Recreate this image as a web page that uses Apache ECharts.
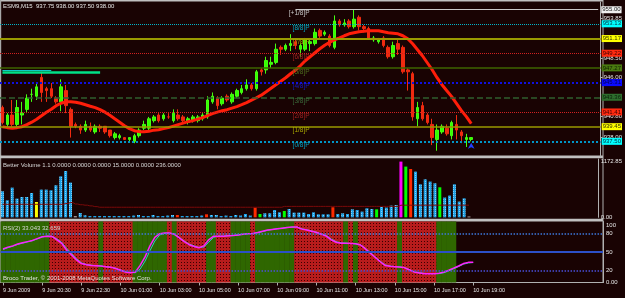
<!DOCTYPE html>
<html>
<head>
<meta charset="utf-8">
<title>ESM9,M15</title>
<script src="https://cdn.jsdelivr.net/npm/echarts@6.0.0/dist/echarts.min.js"></script>
<style>
html,body{margin:0;padding:0;background:#190303;overflow:hidden;}
#chart{width:625px;height:298px;}
</style>
</head>
<body>
<div id="chart"></div>
<script>
// ---------------- data ----------------
const timeTicks = ['9 Jun 2009','9 Jun 20:30','9 Jun 22:30','10 Jun 01:00','10 Jun 03:00','10 Jun 05:00','10 Jun 07:00','10 Jun 09:00','10 Jun 11:00','10 Jun 13:00','10 Jun 15:00','10 Jun 17:00','10 Jun 19:00'];
const barsPerTick = 8;
const slotCount = 123; // bars plus empty chart-shift space on the right

const opens = [942.0,939.75,941.0,939.75,941.0,941.75,943.75,943.5,946.0,944.5,
944.5,943.25,942.75,944.25,941.75,939.75,939.5,939.0,939.5,938.75,
939.5,939.5,939.0,938.0,938.0,938.0,937.75,937.5,938.25,939.25,
939.25,940.25,941.0,940.5,940.75,940.25,941.0,940.75,940.0,940.25,
940.25,940.5,940.75,942.75,943.25,942.5,943.5,942.75,943.5,944.0,
944.5,945.0,944.5,947.0,947.0,947.75,948.0,950.0,949.75,950.25,
950.75,949.75,949.75,950.5,950.5,952.25,951.75,951.5,950.0,953.5,
953.0,953.5,952.75,954.0,952.75,952.5,951.0,950.75,951.25,950.0,
948.75,950.5,950.0,947.0,946.5,940.5,942.25,941.0,939.75,937.75,
938.75,939.25,938.25,939.75,938.75,937.75,937.75];
const highs = [942.25,941.25,943.0,943.0,942.75,943.75,944.5,945.25,946.75,944.75,
945.25,943.5,945.75,945.0,942.0,940.0,939.75,940.25,940.0,939.75,
939.75,939.5,939.0,938.75,938.5,938.0,938.0,938.5,939.25,940.25,
940.75,941.0,941.25,941.25,941.25,941.75,941.75,941.0,940.75,941.0,
941.0,941.25,943.5,944.0,943.5,943.5,943.75,944.0,944.5,945.0,
945.75,945.25,947.0,947.25,948.75,948.75,950.5,950.25,950.5,951.75,
951.0,950.5,951.25,951.0,952.5,952.5,952.25,951.75,954.25,953.75,
953.75,953.75,955.0,954.25,953.0,952.75,951.5,951.25,951.5,950.25,
950.75,951.0,950.25,947.25,946.75,942.75,942.75,941.25,940.5,939.75,
939.75,939.75,940.25,941.0,939.0,938.5,938.0];
const lows = [939.75,939.25,939.25,939.5,939.75,941.25,942.75,943.0,942.75,942.75,
943.25,942.5,941.5,941.25,938.0,939.25,938.5,938.75,938.75,938.5,
938.75,938.5,938.0,937.75,937.75,937.75,937.5,937.25,938.0,939.0,
939.0,940.0,940.0,940.25,940.5,940.0,940.25,940.0,939.75,940.0,
940.0,940.25,940.5,942.5,941.75,942.25,942.75,942.5,943.25,943.75,
944.25,944.25,944.25,946.25,946.5,947.25,947.75,949.0,949.5,949.5,
949.75,948.75,949.5,949.5,950.25,951.25,951.5,950.0,949.75,952.75,
952.75,952.5,952.5,952.25,952.0,951.0,950.75,950.5,950.0,948.5,
948.5,949.0,946.5,944.25,940.25,939.5,940.25,939.75,937.0,936.25,
938.5,938.25,937.75,937.75,937.25,936.75,937.5];
const closes = [940.0,941.0,939.75,942.0,941.25,943.25,943.75,944.75,944.0,944.25,
943.5,942.75,944.75,942.25,939.5,939.5,939.0,939.75,939.0,939.5,
939.25,938.75,938.25,938.5,938.25,937.75,938.0,938.25,939.0,939.75,
940.5,940.75,940.25,941.0,940.75,941.25,940.5,940.25,940.5,940.75,
940.75,941.0,943.0,943.5,942.25,943.25,943.0,943.75,944.25,944.5,
945.0,944.5,946.75,946.75,948.25,948.0,949.75,949.75,950.25,950.5,
950.25,950.25,951.0,950.75,952.0,951.5,952.0,950.25,953.5,953.0,
953.25,952.75,953.75,952.75,952.5,951.25,951.25,951.0,950.25,948.75,
950.25,949.75,946.75,946.75,940.75,942.0,940.5,940.0,938.0,939.0,
939.5,938.5,940.0,939.0,938.25,938.0,938.0];
const maValues = [939.45,939.32,939.25,939.32,939.45,939.72,940.05,940.45,940.91,941.38,
941.78,942.24,942.57,942.77,942.77,942.71,942.57,942.37,942.17,941.98,
941.71,941.38,940.98,940.51,940.05,939.58,939.19,938.92,938.79,938.79,
938.85,938.99,939.05,939.19,939.32,939.52,939.72,939.92,940.12,940.25,
940.45,940.65,940.91,941.18,941.38,941.58,941.71,941.91,942.11,942.37,
942.64,942.97,943.30,943.64,944.10,944.57,945.03,945.50,945.96,946.49,
946.96,947.55,948.22,948.75,949.28,949.81,950.28,950.67,951.01,951.27,
951.54,951.80,951.94,952.07,952.13,952.20,952.20,952.20,952.07,951.94,
951.87,951.80,951.54,951.14,950.47,949.68,948.88,947.95,947.02,945.96,
945.03,944.23,943.44,942.51,941.58,940.78,939.85];

const mmLevels = [955.08,953.13,951.17,949.22,947.27,945.31,943.36,941.41,939.45,937.50];
const mmNames  = ['[+1/8]P','[8/8]P','[7/8]P','[6/8]P','[5/8]P','[4/8]P','[3/8]P','[2/8]P','[1/8]P','[0/8]P'];
const priceTickValues = [953.85,948.50,946.00,940.80,938.00];
const hLinePrice = 955.00;
const bottomPrice = 935.55;
const greenSegPrice = 946.75;
const cyanSegPrice = 946.92;
const arrowPrice = 937.3;

const volumes = [548,358,625,394,428,428,512,322,583,583,
569,674,863,975,731,21,91,42,27,27,
27,27,27,27,27,27,27,36,48,27,
27,48,27,27,36,48,48,27,27,27,
27,36,63,48,48,27,36,27,48,36,
70,36,204,70,84,84,154,105,133,175,
99,99,99,70,105,63,63,63,211,70,
84,70,168,154,120,190,175,168,217,204,
246,259,1173,1068,1017,962,695,800,752,716,
632,415,457,695,331,400,15];
const volKinds = ('bbbbbbb'+'y'+'bbbbbbb'+'w'+'bbbbbbbbbbbbbbbbbbbb'+'r'+'bbbbb'+'r'+'bbbbbbbbb'+'r'+'g'+'bbbb'+'g'+'bbbbbbbbb'+'r'+'bbbbbbbb'+'g'+'bbbb'+'m'+'g'+'r'+'bbbbb'+'g'+'bbbbb'+'w').split('');
const volAvg = [274,274,274,274,274,274,274,274,274,274,
274,274,274,290,310,280,265,255,240,225,
212,212,212,212,212,212,212,212,212,212,
212,212,212,212,212,212,212,212,212,212,
212,212,212,212,212,212,212,212,212,212,
212,212,212,212,212,212,212,212,230,230,
230,230,230,230,230,230,230,230,230,230,
230,230,230,230,230,230,230,230,230,230,
230,230,255,255,255,255,255,255,255,255,
255,255,255,255,255,255,255];
const volTop = 1172.85;

const rsiValues = [55,58,60,63,65,67,69,72,75,76,
75.5,70,64,53,45,37,31,29,28,27.5,
27,26,25,23,20,17,16,17,28,42,
60,74,80,81,81,79,73,67,62,59,
57,60,70,76,76,76,76.5,77,78,79,
80,80.5,82,84,86,87,88,89,90,91,
91,87.5,86,84,82,79,76,70,66,64.5,
64.5,64,63.5,61.5,55,48,41,34,28,26.5,
26,25.5,24,20.5,17,15.5,14.5,14.5,14.5,15,
17,20,23.5,27,31,33,33];
const rsiSignal = [54,57,59.5,62.5,64.5,66.5,68.5,71.5,74.5,76,
76,71.5,66,56,47.5,39,32.5,29.5,28.5,27.5,
27,26,25,23.5,20.5,17.5,16.5,16,22,35,
52,68,78,80.5,81,79.5,74,68,63,60,
57.5,58,66,74,76,76,76.5,77,78,79,
80,80.5,81.5,83.5,85.5,87,88,89,90,90.5,
91,88,86.5,84.5,82.5,79.5,77,71.5,67,65,
64.5,64,63.5,62,56,49,42,35,29,27,
26,25.5,24.5,21,17.5,16,15,14.5,14.5,14.5,
16,19,22.5,26,30,32,32.7];
const rsiZones = ('gggggggggg'+'rrrrrrrrrr'+'g'+'rrrrrr'+'ggggggg'+'r'+'g'+'rrrrrr'+'gg'+'rrr'+'gggg'+'r'+'gggggggg'+'rrrrrrrrrr'+'g'+'r'+'g'+'rrrrrrrr'+'g'+'rrrrrrr'+'gggg'+'----').split('');
const rsiLevels = [80,50,20];
const rsiTickValues = [100,80,50,20,0];

// ---------------- helpers ----------------
const FONT = "'Liberation Sans', Arial, sans-serif";
function pattern(base, dot, size, dots) {
  const c = document.createElement('canvas');
  c.width = size; c.height = size;
  const g = c.getContext('2d');
  g.fillStyle = base; g.fillRect(0, 0, size, size);
  g.fillStyle = dot;
  dots.forEach(([x, y]) => g.fillRect(x, y, 1, 1));
  return { image: c, repeat: 'repeat' };
}
const redDots = pattern('#b81c1c', '#3a0000', 3, [[1, 1]]);
const blueDots = pattern('#1ea2e6', '#7fd4ff', 2, [[1, 1]]);
const zoneGreen = '#2f6700';
const volColorMap = { b: blueDots, y: '#ffff00', w: '#d0d0d0', r: '#ff2a00', g: '#00ff00', m: '#ff00ff' };

const categories = Array.from({ length: slotCount }, (_, i) => String(i));
const candleData = opens.map((o, i) => [o, closes[i], lows[i], highs[i]]);

const mmStyles = [
  null,
  { color: '#00b4c8', width: 1, type: 'dotted', box: '#00ffff', text: '#003040', name: '#00a8c0' },
  { color: '#9a9a00', width: 2, type: 'solid', box: '#ffff00', text: '#303000', name: '#a8a800' },
  { color: '#d02020', width: 1, type: 'dotted', box: '#ff2a10', text: '#400000', name: '#a02020' },
  { color: '#3e6400', width: 1.5, type: 'solid', box: '#4a7a10', text: '#102000', name: '#4e6e1e' },
  { color: '#1010e0', width: 2, type: 'dotted', box: '#0a0aff', text: '#000050', name: '#1818c0' },
  { color: '#2f5f2f', width: 1.5, type: 'dashed', box: '#2e6e2e', text: '#0a200a', name: '#3a6a3a' },
  { color: '#d02020', width: 1, type: 'dotted', box: '#ff2a10', text: '#400000', name: '#a02020' },
  { color: '#9a9a00', width: 1.5, type: 'solid', box: '#ffff00', text: '#303000', name: '#a8a800' },
  { color: '#0096c8', width: 2, type: 'dotted', box: '#00ffff', text: '#003040', name: '#00a0c0' }
];

const levelLines = [];
const levelNames = [];
mmLevels.forEach((lv, k) => {
  const st = mmStyles[k];
  if (st) {
    levelLines.push({
      yAxis: lv,
      lineStyle: { color: st.color, width: st.width, type: st.type },
      label: { show: true, position: 'end', distance: 1, formatter: lv.toFixed(2),
        backgroundColor: st.box, color: st.text, fontSize: 6, fontFamily: FONT, padding: [1, 1, 0, 1] }
    });
  }
  levelNames.push({
    coord: ['63', lv], symbol: 'rect', symbolSize: 1, itemStyle: { color: 'rgba(0,0,0,0)' },
    label: { show: true, formatter: mmNames[k], position: [0, 1], align: 'right', verticalAlign: 'top',
      color: st ? st.name : '#c8c8c8', fontSize: 6.5, fontFamily: FONT }
  });
});
// grey horizontal line with white box label
levelLines.push([
  { coord: ['60', hLinePrice], lineStyle: { color: '#c8c8c8', width: 1, type: 'solid' },
    label: { show: true, position: 'end', distance: 3, formatter: hLinePrice.toFixed(2),
      backgroundColor: '#f0f0f0', color: '#202020', fontSize: 6, fontFamily: FONT, padding: [1, 1, 0, 1] } },
  { coord: [String(slotCount - 1), hLinePrice] }
]);
// bottom price box
levelLines.push({ yAxis: bottomPrice, lineStyle: { opacity: 0 },
  label: { show: true, position: 'end', distance: 1, formatter: bottomPrice.toFixed(2),
    backgroundColor: '#f0f0f0', color: '#202020', fontSize: 6, fontFamily: FONT, padding: [1, 1, 0, 1] } });
// green/cyan short segments on the left
levelLines.push([{ coord: ['0', greenSegPrice], lineStyle: { color: '#00e088', width: 2.5, type: 'solid' }, label: { show: false } },
                 { coord: ['20', greenSegPrice] }]);
levelLines.push([{ coord: ['0', cyanSegPrice], lineStyle: { color: '#10c8c8', width: 1, type: 'solid' }, label: { show: false } },
                 { coord: ['10', cyanSegPrice] }]);

levelNames.push({ coord: [String(opens.length - 1), arrowPrice], symbol: 'arrow', symbolSize: [5, 6],
  itemStyle: { color: '#2040ff' }, label: { show: false } });

const rsiZoneData = rsiZones.map(z => z === 'g' ? { value: 100, itemStyle: { color: zoneGreen } }
                                   : z === 'r' ? { value: 100, itemStyle: { color: redDots } } : '-');
const volData = volumes.map((v, i) => ({ value: v, itemStyle: { color: volColorMap[volKinds[i]] } }));

const axisGrey = '#b0b0b0';
const labelColor = '#e6e6e6';

function xAxisFor(idx, showLabels) {
  return {
    type: 'category', gridIndex: idx, data: categories, boundaryGap: true,
    show: showLabels,
    axisLine: { show: showLabels, lineStyle: { color: axisGrey, width: 1 } },
    axisTick: { show: showLabels, alignWithLabel: true, length: 3, lineStyle: { color: axisGrey },
      interval: (i) => i % barsPerTick === 0 && i / barsPerTick < timeTicks.length },
    axisLabel: { show: showLabels, color: labelColor, fontSize: 5.5, fontFamily: FONT, align: 'left', margin: 5,
      interval: (i) => i % barsPerTick === 0 && i / barsPerTick < timeTicks.length,
      formatter: (v, i) => timeTicks[i / barsPerTick] || '' },
    splitLine: { show: false }
  };
}

const option = {
  animation: false,
  backgroundColor: '#190303',
  textStyle: { fontFamily: FONT },
  title: [
    { text: 'ESM9,M15  937.75 938.00 937.50 938.00', left: 3, top: 3, padding: 0,
      textStyle: { color: '#e8e8e8', fontSize: 6, fontWeight: 'normal', fontFamily: FONT } },
    { text: 'Better Volume 1.1 0.0000 0.0000 0.0000 15.0000 0.0000 236.0000', left: 3, top: 162, padding: 0,
      textStyle: { color: '#d8d8d8', fontSize: 6, fontWeight: 'normal', fontFamily: FONT } },
    { text: 'RSI(2) 33.043 32.659', left: 3, top: 225, padding: 0,
      textStyle: { color: '#d8d8d8', fontSize: 6, fontWeight: 'normal', fontFamily: FONT } },
    { text: 'Broco Trader, \u00a9 2001-2008 MetaQuotes Software Corp.', left: 3, top: 275, padding: 0,
      textStyle: { color: '#e0e0e0', fontSize: 6, fontWeight: 'normal', fontFamily: FONT } }
  ],
  graphic: [
    { type: 'rect', shape: { x: 0, y: 0, width: 603, height: 1.5 }, style: { fill: '#c0c0c0' }, silent: true },
    { type: 'rect', shape: { x: 0, y: 0, width: 1.2, height: 283 }, style: { fill: '#a8a8a8' }, silent: true },
    { type: 'rect', shape: { x: 0, y: 155.5, width: 603, height: 2.8 }, style: { fill: '#c0c0c0' }, silent: true },
    { type: 'rect', shape: { x: 0, y: 218.8, width: 603, height: 2.8 }, style: { fill: '#c0c0c0' }, silent: true },
    { type: 'rect', shape: { x: 602.5, y: 0, width: 1, height: 283 }, style: { fill: axisGrey }, silent: true }
  ],
  grid: [
    { left: 0, right: 22, top: 2, height: 154 },
    { left: 0, right: 22, top: 159, height: 58.3 },
    { left: 0, right: 22, top: 221.5, height: 61 }
  ],
  xAxis: [xAxisFor(0, false), xAxisFor(1, false), xAxisFor(2, true)],
  yAxis: [
    { type: 'value', gridIndex: 0, position: 'right', min: 935.55, max: 956.03,
      splitLine: { show: false },
      axisLine: { show: true, lineStyle: { color: axisGrey } },
      axisTick: { show: true, length: 2, customValues: priceTickValues, lineStyle: { color: axisGrey } },
      axisLabel: { customValues: priceTickValues, formatter: v => v.toFixed(2), color: labelColor, fontSize: 6, fontFamily: FONT, margin: 3 } },
    { type: 'value', gridIndex: 1, position: 'right', min: 0, max: 1228,
      splitLine: { show: false },
      axisLine: { show: true, lineStyle: { color: axisGrey } },
      axisTick: { show: false },
      axisLabel: { customValues: [volTop, 0], formatter: v => v === 0 ? '0.00' : v.toFixed(2), color: labelColor, fontSize: 6, fontFamily: FONT, margin: 3 } },
    { type: 'value', gridIndex: 2, position: 'right', min: 0, max: 100,
      splitLine: { show: false },
      axisLine: { show: true, lineStyle: { color: axisGrey } },
      axisTick: { show: false },
      axisLabel: { customValues: rsiTickValues, formatter: v => v === 0 ? '0.00' : (v === 100 ? '{t|100}' : String(v)),
        rich: { t: { padding: [8, 0, 0, 0], fontSize: 6, color: labelColor } },
        color: labelColor, fontSize: 6, fontFamily: FONT, margin: 3 } }
  ],
  series: [
    { name: 'levels', type: 'line', xAxisIndex: 0, yAxisIndex: 0, data: [], z: 1, silent: true,
      markLine: { symbol: ['none', 'none'], silent: true, animation: false, data: levelLines },
      markPoint: { silent: true, animation: false, data: levelNames } },
    { name: 'price', type: 'candlestick', xAxisIndex: 0, yAxisIndex: 0, data: candleData, barWidth: 3, z: 3,
      itemStyle: { color: '#33ff00', color0: '#f02a10', borderColor: '#44ff10', borderColor0: '#f02a10', borderWidth: 1 } },
    { name: 'ma', type: 'line', xAxisIndex: 0, yAxisIndex: 0, data: maValues, showSymbol: false, z: 4,
      lineStyle: { color: '#ff1e0a', width: 3 } },
    { name: 'volume', type: 'bar', xAxisIndex: 1, yAxisIndex: 1, data: volData, barWidth: 3, z: 2 },
    { name: 'volAvg', type: 'line', xAxisIndex: 1, yAxisIndex: 1, data: volAvg, showSymbol: false, step: 'middle', z: 3,
      lineStyle: { color: '#7a0a0a', width: 1 } },
    { name: 'zones', type: 'bar', xAxisIndex: 2, yAxisIndex: 2, data: rsiZoneData, barWidth: 5.3, z: 1, silent: true,
      markLine: { symbol: ['none', 'none'], silent: true, animation: false, label: { show: false },
        data: [
          { yAxis: rsiLevels[0], lineStyle: { color: '#3c78dc', width: 1.5, type: 'dotted' } },
          { yAxis: rsiLevels[1], lineStyle: { color: '#2c50c8', width: 2, type: 'solid' } },
          { yAxis: rsiLevels[2], lineStyle: { color: '#4a50dc', width: 1.5, type: 'dotted' } }
        ] } },
    { name: 'rsiSignal', type: 'line', xAxisIndex: 2, yAxisIndex: 2, data: rsiSignal, showSymbol: false, z: 3,
      lineStyle: { color: '#30c8c0', width: 1 } },
    { name: 'rsi', type: 'line', xAxisIndex: 2, yAxisIndex: 2, data: rsiValues, showSymbol: false, z: 4,
      lineStyle: { color: '#ff20ff', width: 1.5 } }
  ]
};

const chart = echarts.init(document.getElementById('chart'), null, { renderer: 'canvas', width: 625, height: 298 });
chart.setOption(option);
</script>
</body>
</html>
